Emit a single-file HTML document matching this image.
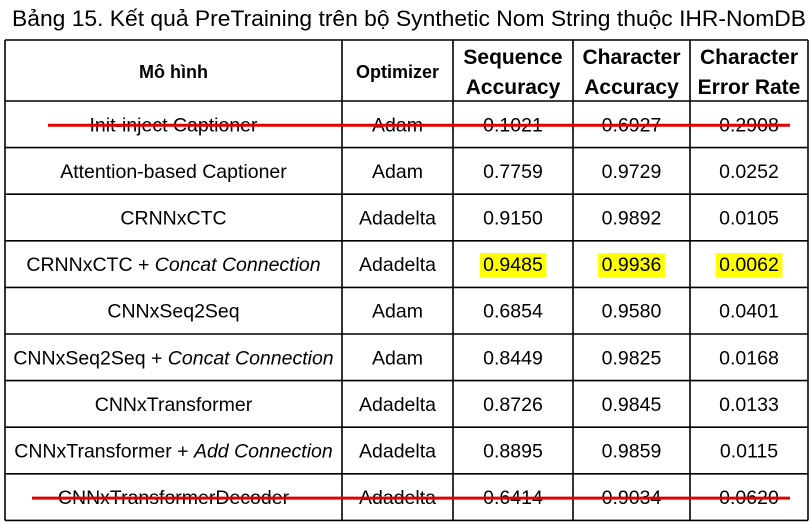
<!DOCTYPE html>
<html><head><meta charset="utf-8"><style>
html,body{margin:0;padding:0;background:#fff;width:812px;height:525px;overflow:hidden}
svg{display:block}
text{font-family:"Liberation Sans",sans-serif;fill:#000}
</style></head><body>
<svg width="812" height="525" viewBox="0 0 812 525">
<text x="12" y="26" font-size="22" textLength="794" lengthAdjust="spacingAndGlyphs">Bảng 15. Kết quả PreTraining trên bộ Synthetic Nom String thuộc IHR-NomDB</text>
<g id="grid" stroke="#000" stroke-width="1.6" fill="none"></g>
<g id="cells"></g>
<g id="strikes"></g>
</svg>
<script>
const NS='http://www.w3.org/2000/svg';
const models=['Init-inject Captioner','Attention-based Captioner','CRNNxCTC','CRNNxCTC + |Concat Connection','CNNxSeq2Seq','CNNxSeq2Seq + |Concat Connection','CNNxTransformer','CNNxTransformer + |Add Connection','CNNxTransformerDecoder'];
const optimizers=['Adam','Adam','Adadelta','Adadelta','Adam','Adam','Adadelta','Adadelta','Adadelta'];
const seqAcc=['0.1021','0.7759','0.9150','0.9485','0.6854','0.8449','0.8726','0.8895','0.6414'];
const charAcc=['0.6927','0.9729','0.9892','0.9936','0.9580','0.9825','0.9845','0.9859','0.9034'];
const cer=['0.2908','0.0252','0.0105','0.0062','0.0401','0.0168','0.0133','0.0115','0.0620'];
const highlighted=[3];
const struck=[0,8];
const colX=[5,342,453,573,690,808];
const top0=40, headBot=101, rowH=46.6;
const grid=document.getElementById('grid'), cells=document.getElementById('cells'), strikes=document.getElementById('strikes');
function el(t,a,p){const e=document.createElementNS(NS,t);for(const k in a)e.setAttribute(k,a[k]);p.appendChild(e);return e;}
const bot=headBot+rowH*models.length;
colX.forEach(x=>{el('line',{x1:x,y1:top0,x2:x,y2:bot},grid);});
el('line',{x1:colX[0],y1:top0,x2:colX[5],y2:top0},grid);
for(let i=0;i<=models.length;i++){const y=headBot+rowH*i;el('line',{x1:colX[0],y1:y,x2:colX[5],y2:y},grid);}
function cx(c){return (colX[c]+colX[c+1])/2;}
function txt(s,x,y,opt){const t=el('text',{x:x,y:y,'font-size':19.5,'text-anchor':'middle'},cells);
 if(opt&&opt.bold)t.setAttribute('font-weight','bold');
 const parts=s.split('|');
 parts.forEach((p,i)=>{const sp=el('tspan',{},t);sp.textContent=p;if(i>0)sp.setAttribute('font-style','italic');});
 return t;}
const hdrs=[['Mô hình'],['Optimizer'],['Sequence','Accuracy'],['Character','Accuracy'],['Character','Error Rate']];
hdrs.forEach((h,c)=>{
 let t;
 if(h.length===1){t=txt(h[0],cx(c),78,{bold:1});t.setAttribute('font-size','18');}
 else{t=txt(h[0],cx(c),64,{bold:1});t.setAttribute('font-size','21');const t2=txt(h[1],cx(c),94,{bold:1});t2.setAttribute('font-size','21');}
 
 
});
models.forEach((m,i)=>{
 const y=headBot+rowH*i+rowH/2+7;
 const vals=[m,optimizers[i],seqAcc[i],charAcc[i],cer[i]];
 vals.forEach((v,c)=>{
  if(c>=2&&highlighted.includes(i)){
   const w=v.length*10.8+2;
   const r=el('rect',{x:cx(c)-w/2,y:y-18,width:w,height:24,fill:'#ffff00'},cells);
   
   
  }
  const t=txt(v,cx(c),y);
  
  
 });
 if(struck.includes(i)){
  const x1=i===0?48:32;
  const s=el('line',{x1:x1,y1:y-6,x2:790,y2:y-6,stroke:'#e00000','stroke-width':3},strikes);
  
  
 }
});
</script>
</body></html>
